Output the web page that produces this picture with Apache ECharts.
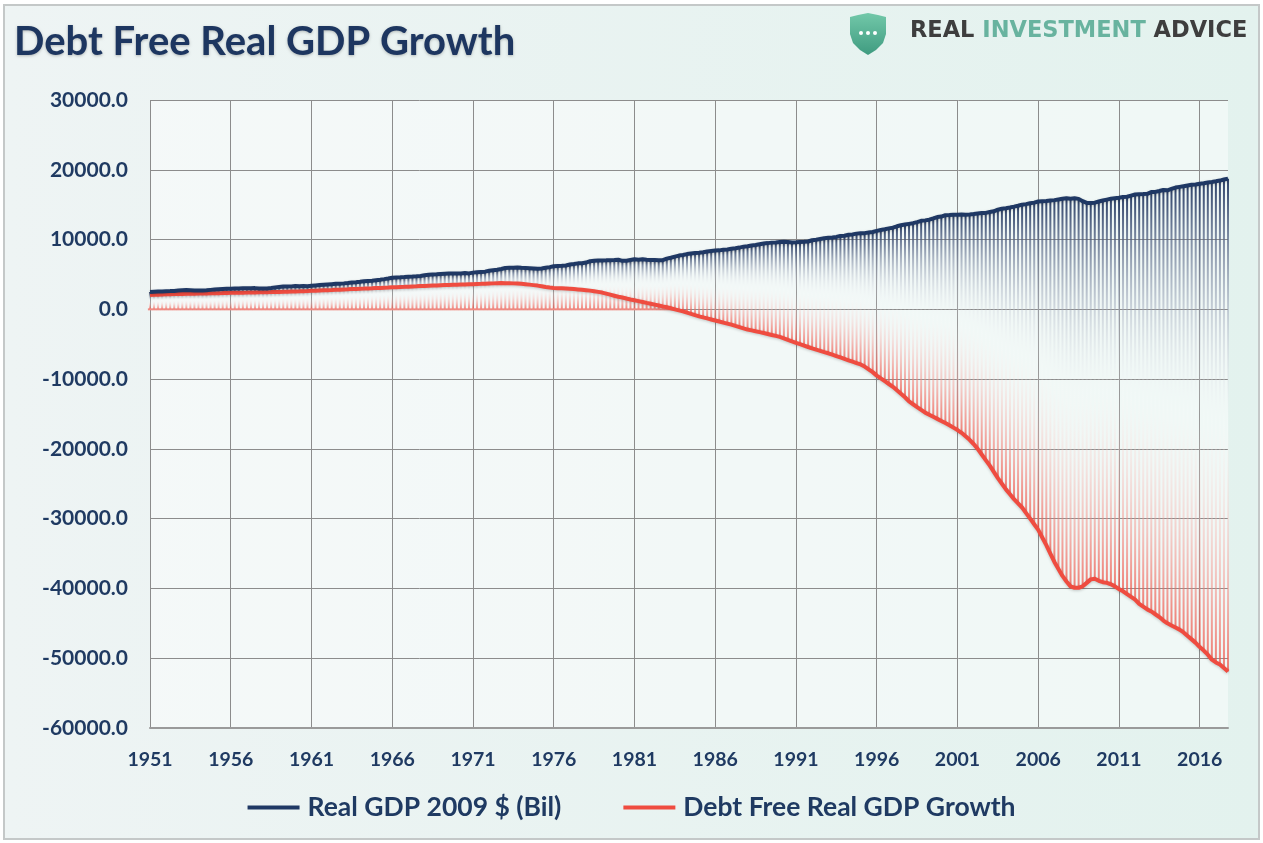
<!DOCTYPE html>
<html><head><meta charset="utf-8">
<script src="https://cdn.jsdelivr.net/npm/echarts@6/dist/echarts.min.js"></script>
<style>html,body{margin:0;padding:0;background:#fff;}#c{width:1263px;height:843px;}</style>
</head><body><div id="c"></div>
<script>
// ---- data (quarterly, 1951 Q1 .. 2017 Q4) ----
const startYear = 1951;
const endYear = 2017;
const tickEvery = 20; // one labelled tick every 5 years (20 quarters)
const seriesNames = ['Real GDP 2009 $ (Bil)', 'Debt Free Real GDP Growth'];

const realGDP = [
  2480,2510,2540,2570, 2600,2610,2640,2700, 2740,2760,2740,2710, 2700,2700,2730,2790,
  2850,2890,2920,2950, 2960,2970,2980,3010, 3020,3030,3040,3000, 2980,3000,3060,3130,
  3200,3270,3260,3290, 3330,3320,3330,3300, 3380,3430,3480,3530, 3570,3610,3650,3680,
  3720,3770,3830,3880, 3940,4010,4060,4110, 4180,4250,4330,4420, 4520,4560,4590,4630,
  4680,4700,4740,4790, 4880,4940,4980,5020, 5080,5110,5130,5120, 5140,5150,5190,5150,
  5260,5310,5360,5400, 5520,5610,5680,5790, 5930,5960,5950,5990, 5960,5940,5900,5860,
  5800,5850,5950,6050, 6170,6210,6240,6290, 6420,6490,6590,6600, 6700,6900,6950,7000,
  7000,7020,7050,7060, 7100,6950,6960,7080, 7180,7120,7190,7110, 7060,7070,7040,7050,
  7260,7400,7560,7700, 7780,7920,8000,8060, 8100,8170,8290,8360, 8420,8450,8530,8580,
  8680,8750,8850,8980, 9050,9150,9220,9330, 9430,9490,9560,9580, 9650,9680,9660,9570,
  9600,9640,9670,9720, 9900,9980,10080,10180, 10250,10310,10380,10500, 10550,10680,10740,10850,
  10900,10920,11010,11080, 11250,11380,11480,11600, 11700,11900,12050,12150, 12250,12350,12500,12680,
  12750,12850,13020,13230, 13300,13500,13510,13570, 13550,13600,13560,13600, 13650,13720,13790,13820,
  13950,14050,14280,14420, 14500,14600,14720,14850, 15000,15080,15210,15290, 15450,15500,15520,15600,
  15650,15750,15850,15920, 15850,15910,15830,15500, 15250,15230,15290,15450, 15600,15720,15840,15920,
  16000,16100,16130,16290, 16450,16500,16520,16550, 16800,16830,16950,17100, 17050,17250,17450,17550,
  17650,17750,17850,17880, 18000,18060,18180,18260, 18350,18450,18600,18720
];

const debtFree = [
  2050,2080,2100,2130, 2150,2160,2180,2200, 2200,2220,2230,2250, 2260,2270,2280,2290,
  2300,2320,2330,2350, 2360,2370,2380,2390, 2400,2420,2430,2440, 2450,2460,2470,2490,
  2500,2520,2530,2550, 2570,2580,2600,2620, 2650,2670,2700,2730, 2750,2770,2800,2820,
  2850,2870,2900,2920, 2950,2970,3000,3020, 3050,3070,3100,3120, 3150,3180,3200,3220,
  3250,3280,3300,3330, 3350,3380,3400,3420, 3450,3470,3490,3510, 3530,3550,3560,3580,
  3600,3630,3650,3680, 3700,3720,3740,3760, 3750,3740,3720,3700, 3650,3600,3540,3470,
  3400,3300,3200,3120, 3050,3030,3010,2980, 2950,2900,2850,2800, 2750,2680,2600,2500,
  2400,2250,2100,1950, 1800,1700,1550,1420, 1300,1180,1050,920, 800,680,550,420,
  300,150,0,-150, -300,-480,-650,-830, -1000,-1150,-1300,-1450, -1600,-1750,-1900,-2050,
  -2200,-2380,-2550,-2730, -2900,-3020,-3150,-3270, -3400,-3530,-3670,-3810, -3950,-4150,-4380,-4600,
  -4800,-5000,-5200,-5400, -5600,-5780,-5950,-6130, -6300,-6500,-6700,-6900, -7100,-7300,-7500,-7700,
  -7900,-8200,-8600,-9000, -9500,-9900,-10300,-10700, -11100,-11600,-12100,-12600, -13200,-13600,-14000,-14400,
  -14800,-15100,-15400,-15700, -16000,-16300,-16600,-16950, -17300,-17700,-18200,-18700, -19300,-20000,-20800,-21600,
  -22400,-23300,-24200,-25000, -25800,-26500,-27200,-27800, -28400,-29200,-30000,-30800, -31600,-32700,-33800,-35000,
  -36200,-37200,-38200,-39000, -39700,-39900,-39900,-39700, -39200,-38700,-38600,-38900, -39100,-39200,-39400,-39700,
  -40100,-40400,-40800,-41200, -41600,-42200,-42600,-43000, -43300,-43700,-44100,-44600, -45000,-45300,-45600,-45900,
  -46300,-46800,-47300,-47800, -48400,-48900,-49500,-50200, -50600,-50900,-51400,-51900
];

const categories = [];
for (let y = startYear; y <= endYear; y++) {
  for (let q = 1; q <= 4; q++) categories.push(y + ' Q' + q);
}

const NAVY = '#1f3864';
const RED = '#ef4c40';
const TEXT = '#1f3a62';
const FONT = 'Lato';

const chart = echarts.init(document.getElementById('c'), null, {renderer: 'canvas'});

function dropGrad() {
  return new echarts.graphic.LinearGradient(0, 0, 0, 1, [
    {offset: 0, color: 'rgba(31,52,94,0.92)'},
    {offset: 0.5, color: 'rgba(255,255,255,0.1)'},
    {offset: 1, color: 'rgba(238,80,68,0.72)'}
  ]);
}

const option = {
  animation: false,
  backgroundColor: '#ffffff',
  graphic: [
    {type: 'rect', z: -10, shape: {x: 4, y: 5, width: 1255, height: 834},
     style: {fill: new echarts.graphic.LinearGradient(0, 0, 1, 0, [
       {offset: 0, color: '#eef4f4'}, {offset: 1, color: '#e3f2ee'}]),
       stroke: '#c4c8c8', lineWidth: 2}},
    {type: 'polygon', z: 10,
     shape: {points: [[850,17],[858,15],[868,13],[878,15],[886,17],[886,34],[883,43],[876,50],[868,55],[860,50],[853,43],[850,34]]},
     style: {fill: new echarts.graphic.LinearGradient(0, 0, 0, 1, [
       {offset: 0, color: '#72c8a9'}, {offset: 1, color: '#3f9b80'}])}},
    {type: 'circle', z: 11, shape: {cx: 861, cy: 33, r: 2}, style: {fill: '#fff'}},
    {type: 'circle', z: 11, shape: {cx: 868, cy: 33, r: 2}, style: {fill: '#fff'}},
    {type: 'circle', z: 11, shape: {cx: 875, cy: 33, r: 2}, style: {fill: '#fff'}},
    {type: 'text', z: 10, x: 910, y: 20,
     style: {text: '{a|REAL }{b|INVESTMENT }{a|ADVICE}',
       rich: {a: {fill: '#3e3e3e', fontFamily: 'DejaVu Sans', fontWeight: 'bold', fontSize: 22.5},
              b: {fill: '#68b39f', fontFamily: 'DejaVu Sans', fontWeight: 'bold', fontSize: 22.5}}}}
  ],
  title: {
    text: 'Debt Free Real GDP Growth', left: 9, top: 17,
    textStyle: {fontFamily: FONT, fontWeight: 'bold', fontSize: 40, color: '#1d3660',
      textShadowColor: 'rgba(0,0,0,0.25)', textShadowBlur: 3, textShadowOffsetY: 1}
  },
  legend: {
    data: seriesNames, top: 789, left: 'center', icon: 'rect', itemWidth: 52, itemHeight: 4, itemGap: 62,
    textStyle: {fontFamily: FONT, fontWeight: 'bold', fontSize: 26.5, color: TEXT, padding: [0, 0, 0, 3]}
  },
  grid: {left: 150, right: 35, top: 100, bottom: 115, show: true, backgroundColor: 'rgba(255,255,255,0.45)', borderWidth: 0},
  xAxis: {
    type: 'category', data: categories, boundaryGap: false,
    axisLine: {onZero: false, lineStyle: {color: '#9a9a9a', width: 2}},
    axisTick: {show: false},
    axisLabel: {interval: (i) => i % tickEvery === 0, formatter: (v) => v.slice(0, 4), margin: 22,
      fontFamily: FONT, fontWeight: 'bold', fontSize: 19.5, color: TEXT},
    splitLine: {show: true, interval: (i) => i % tickEvery === 0, lineStyle: {color: '#8c8c8c', width: 1}}
  },
  yAxis: {
    type: 'value', min: -60000, max: 30000, interval: 10000,
    axisLine: {show: false}, axisTick: {show: false},
    axisLabel: {formatter: (v) => v.toFixed(1), margin: 22, fontFamily: FONT, fontWeight: 'bold', fontSize: 21, color: TEXT},
    splitLine: {lineStyle: {color: '#8c8c8c', width: 1}}
  },
  series: [
    {
      type: 'custom', name: 'dropLines', silent: true, z: 1,
      encode: {x: 0, y: [1, 2]},
      data: realGDP.map((b, i) => [i, b, debtFree[i]]),
      renderItem: function (params, api) {
        const i = api.value(0), b = api.value(1), r = api.value(2);
        const top = api.coord([i, b]);
        const bot = api.coord([i, Math.min(r, 0)]);
        const w = 2;
        const children = [{type: 'rect', shape: {x: top[0] - w / 2, y: top[1], width: w, height: bot[1] - top[1]},
          style: {fill: dropGrad()}}];
        if (r > 0) {
          const z = api.coord([i, 0]);
          children.push({type: 'rect', shape: {x: z[0] - 2.1, y: z[1] - 1, width: 4.2, height: 2}, style: {fill: '#f08a82'}});
        }
        return {type: 'group', children: children};
      }
    },
    {
      type: 'line', name: seriesNames[1], data: debtFree, symbol: 'none', z: 3,
      lineStyle: {color: RED, width: 4, shadowColor: 'rgba(0,0,0,0.2)', shadowBlur: 3, shadowOffsetY: 1}, itemStyle: {color: RED}
    },
    {
      type: 'line', name: seriesNames[0], data: realGDP, symbol: 'none', z: 4,
      lineStyle: {color: NAVY, width: 4, shadowColor: 'rgba(0,0,0,0.2)', shadowBlur: 3, shadowOffsetY: 1}, itemStyle: {color: NAVY}
    }
  ]
};
chart.setOption(option);
</script></body></html>
